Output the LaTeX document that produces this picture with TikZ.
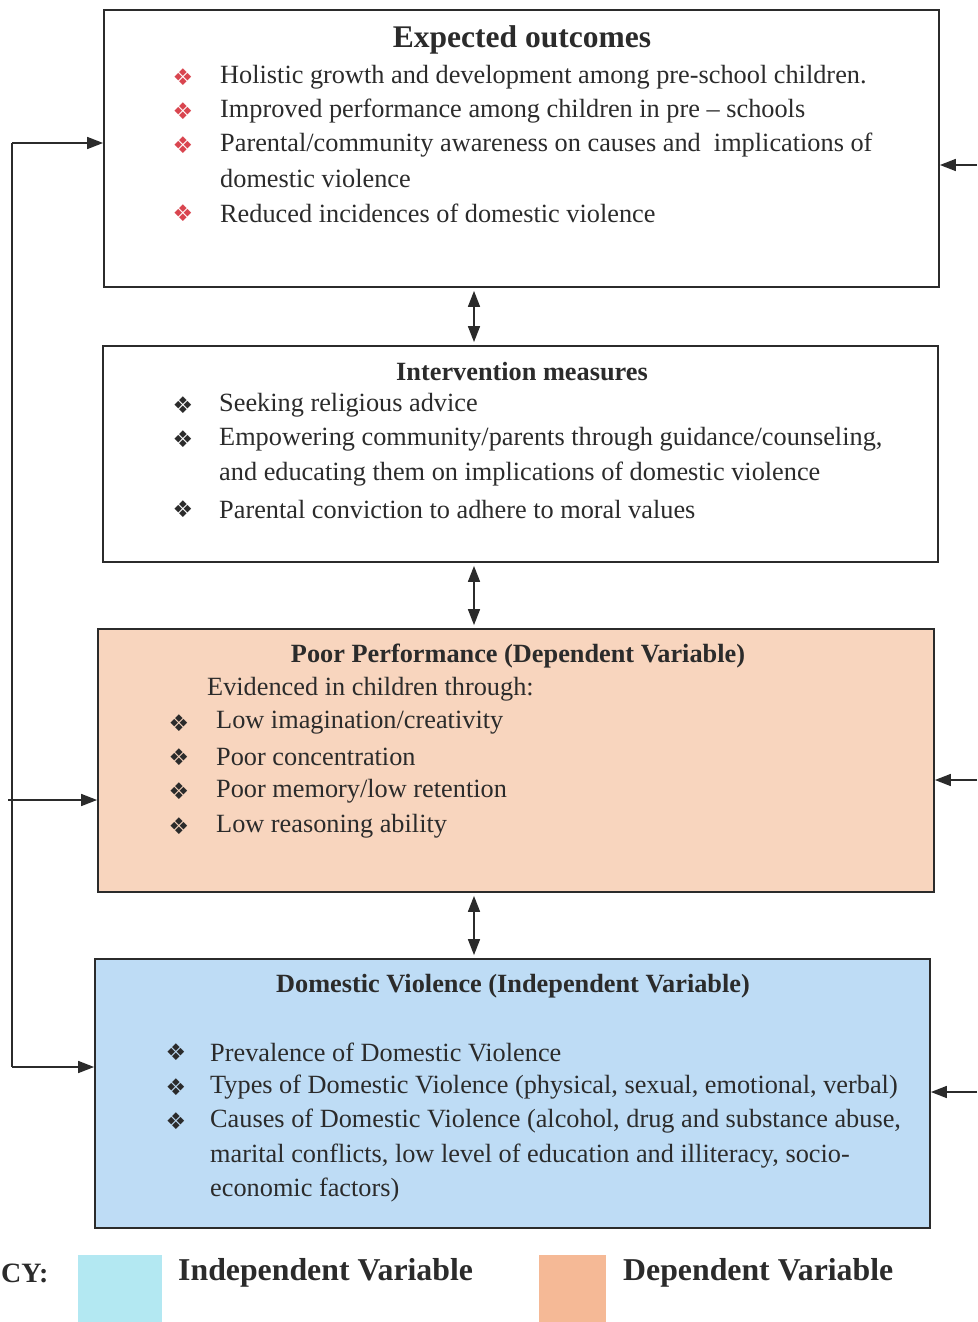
\documentclass[tikz,border=0pt]{standalone}
\usepackage{fontspec}
\setmainfont{Liberation Serif}
\newfontfamily\symfont{DejaVu Sans}
\usetikzlibrary{arrows.meta,calc}
\definecolor{peach}{HTML}{F8D5BE}
\definecolor{skyb}{HTML}{BEDCF5}
\definecolor{legb}{HTML}{B3E8F2}
\definecolor{lego}{HTML}{F5B996}
\definecolor{bred}{HTML}{D9454F}
\definecolor{ink}{HTML}{2B2B2B}
\tikzset{
  box/.style={draw=ink, line width=1.8pt, rectangle, inner sep=0pt},
  txt/.style={anchor=west, inner sep=0pt, text=ink, font=\fontsize{26.3}{30}\selectfont},
  ttl/.style={anchor=center, inner sep=0pt, text=ink, font=\bfseries\fontsize{26.3}{30}\selectfont},
  bul/.style={anchor=center, inner sep=0pt, text=ink, font=\symfont\fontsize{23}{26}\selectfont},
  conn/.style={draw=ink, line width=1.6pt},
  arr/.style={conn, -{Triangle[length=16pt,width=12pt]}},
  darr/.style={conn, {Triangle[length=16pt,width=12pt]}-{Triangle[length=16pt,width=12pt]}, shorten <=3pt, shorten >=3pt},
  leg/.style={anchor=west, inner sep=0pt, text=ink, font=\bfseries\fontsize{31.8}{36}\selectfont}
}
\begin{document}
\begin{tikzpicture}[x=1pt,y=-1pt]
\useasboundingbox (0,0) rectangle (977,1322);
% boxes
\node[box, fill=white, minimum width=835pt, minimum height=277pt] (b1) at (521.5,148.5) {};
\node[box, fill=white, minimum width=835pt, minimum height=216pt] (b2) at (520.5,454) {};
\node[box, fill=peach, minimum width=836pt, minimum height=263pt] (b3) at (516,760.5) {};
\node[box, fill=skyb, minimum width=835pt, minimum height=269pt] (b4) at (512.5,1093.5) {};
% box 1
\node[ttl, font=\bfseries\fontsize{31.5}{36}\selectfont] (t1) at (522,40) {Expected outcomes};
\node[bul, text=bred] (p11) at (183,77) {❖};
\node[txt] (l11) at (220,77) {Holistic growth and development among pre-school children.};
\node[bul, text=bred] (p12) at (183,111) {❖};
\node[txt] (l12) at (220,111) {Improved performance among children in pre -- schools};
\node[bul, text=bred] (p13) at (183,145) {❖};
\node[txt] (l13) at (220,145) {Parental/community awareness on causes and\ \ implications of};
\node[txt] (l13b) at (220,179) {domestic violence};
\node[bul, text=bred] (p14) at (183,213) {❖};
\node[txt] (l14) at (220,213) {Reduced incidences of domestic violence};
% box 2
\node[ttl] (t2) at (522,372) {Intervention measures};
\node[bul] (p21) at (183,405) {❖};
\node[txt] (l21) at (219,405) {Seeking religious advice};
\node[bul] (p22) at (183,439) {❖};
\node[txt] (l22) at (219,439) {Empowering community/parents through guidance/counseling,};
\node[txt] (l22b) at (219,474) {and educating them on implications of domestic violence};
\node[bul] (p23) at (183,509) {❖};
\node[txt] (l23) at (219,509) {Parental conviction to adhere to moral values};
% box 3
\node[ttl] (t3) at (518,656) {Poor Performance (Dependent Variable)};
\node[txt] (l30) at (207,689) {Evidenced in children through:};
\node[bul] (p31) at (179,723) {❖};
\node[txt] (l31) at (216,723) {Low imagination/creativity};
\node[bul] (p32) at (179,757) {❖};
\node[txt] (l32) at (216,757) {Poor concentration};
\node[bul] (p33) at (179,791) {❖};
\node[txt] (l33) at (216,791) {Poor memory/low retention};
\node[bul] (p34) at (179,826) {❖};
\node[txt] (l34) at (216,826) {Low reasoning ability};
% box 4
\node[ttl] (t4) at (513,986) {Domestic Violence (Independent Variable)};
\node[bul] (p41) at (176,1052) {❖};
\node[txt] (l41) at (210,1052) {Prevalence of Domestic Violence};
\node[bul] (p42) at (176,1087) {❖};
\node[txt] (l42) at (210,1087) {Types of Domestic Violence (physical, sexual, emotional, verbal)};
\node[bul] (p43) at (176,1121) {❖};
\node[txt] (l43) at (210,1121) {Causes of Domestic Violence (alcohol, drug and substance abuse,};
\node[txt] (l43b) at (210,1156) {marital conflicts, low level of education and illiteracy, socio-};
\node[txt] (l43c) at (210,1190) {economic factors)};
% vertical double arrows
\coordinate (xa) at (474,0);
\draw[darr] (b1.south -| xa) -- (b2.north -| xa);
\draw[darr] (b2.south -| xa) -- (b3.north -| xa);
\draw[darr] (b3.south -| xa) -- (b4.north -| xa);
% left feedback line
\coordinate (L1) at (12,143);
\coordinate (L3) at (8,800);
\coordinate (L4) at (12,1067);
\draw[conn] (L1) -- (L4);
\draw[arr] (L1) -- (L1 -| b1.west);
\draw[arr] (L3) -- (L3 -| b3.west);
\draw[arr] (L4) -- (L4 -| b4.west);
% right incoming arrows
\coordinate (R1) at (977,165);
\coordinate (R3) at (977,780);
\coordinate (R4) at (977,1092);
\draw[arr] (R1) -- (R1 -| b1.east);
\draw[arr] (R3) -- (R3 -| b3.east);
\draw[arr] (R4) -- (R4 -| b4.east);
% legend
\node[leg, font=\bfseries\fontsize{28}{32}\selectfont] (key) at (1,1273) {CY:};
\node[fill=legb, minimum width=84pt, minimum height=67pt, inner sep=0pt, anchor=north west] (s1) at (78,1255) {};
\node[leg] (k1) at (178,1273) {Independent Variable};
\node[fill=lego, minimum width=67pt, minimum height=67pt, inner sep=0pt, anchor=north west] (s2) at (539,1255) {};
\node[leg] (k2) at (623,1273) {Dependent Variable};
\end{tikzpicture}
\end{document}
